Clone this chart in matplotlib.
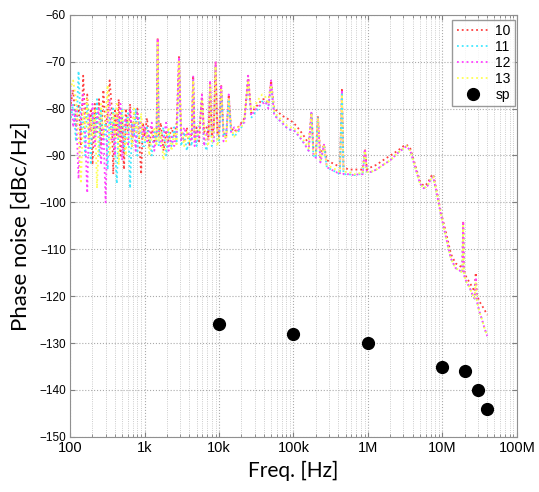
import numpy as np
import matplotlib.pyplot as plt
from matplotlib.ticker import LogLocator, NullFormatter

# frequency grid [Hz]
freq = [100, 110, 120, 130, 140, 150, 160, 170, 180, 190, 200, 215, 230, 245, 260, 280, 300,
        320, 340, 360, 380, 400, 425, 450, 475, 500, 530, 560, 600, 640, 680, 720, 760, 800,
        850, 900, 950,
        1000, 1080, 1160, 1250, 1350, 1450, 1500, 1550, 1650, 1800, 1950, 2100, 2300, 2500,
        2700, 2900, 3100, 3400, 3700, 4000, 4300, 4500, 4700, 5000, 5400, 5900, 6300, 6800,
        7200, 7600, 8000, 8500, 9000, 9500,
        10000, 10700, 11500, 12500, 13500, 14500, 16000, 18000, 20000, 22000, 24600, 27000,
        30000, 34000, 38000, 42000, 46000, 50000, 55000, 60000, 70000, 80000, 90000,
        100000, 120000, 140000, 160000, 174000, 185000, 200000, 213000, 230000, 257000,
        280000, 320000, 370000, 420000, 447000, 470000, 550000, 650000, 750000, 850000,
        912000, 970000,
        1.1e6, 1.3e6, 1.6e6, 2.0e6, 2.5e6, 3.0e6, 3.3e6, 3.7e6, 4.3e6, 5.0e6, 5.6e6, 6.3e6,
        7.0e6, 7.5e6, 8.5e6, 9.5e6, 11e6, 13e6, 15e6, 17e6, 18.5e6, 19e6, 19.5e6, 21e6, 23e6,
        25e6, 27e6, 28e6, 29e6, 31e6, 34e6, 37e6, 40e6]

pn10 = [-80, -76, -84, -79, -88, -73, -83, -77, -86, -80, -92, -79, -85, -78, -88, -76, -84,
        -81, -74, -79, -94, -80, -86, -78, -90, -82, -93, -80, -85, -79, -88, -81, -84, -80,
        -87, -94, -83,
        -86, -82, -88, -84, -87, -85, -65, -86, -83, -89, -85, -87, -84, -86,
        -83, -69, -85, -87, -84, -88, -85, -73, -86, -84, -87, -77, -85, -84,
        -86, -74.5, -86, -84, -70, -85,
        -86, -75, -85, -86, -77, -84, -85, -84, -83, -82, -73, -81,
        -80, -79, -78, -78, -79, -74, -80, -80.5, -81.5, -82, -82.5,
        -83, -84.5, -86, -87.5, -80.7, -88.5, -89, -81.8, -90, -87.7,
        -91, -91.5, -92, -92.5, -76, -92.5, -93, -93, -93, -93,
        -88.6, -93,
        -92.5, -92, -91, -90, -89, -88, -87.7, -88.5, -92, -95.5, -96.5, -96,
        -94.5, -94, -98, -102, -106, -111, -113, -113.5, -114, -104, -114.5, -116, -117,
        -118, -119, -115, -119.5, -121, -122, -123, -124]

pn11 = [-83, -79, -87, -72, -85, -82, -90, -79, -84, -92, -81, -86, -78, -90, -80, -87, -83,
        -93, -82, -85, -80, -88, -96, -82, -86, -80, -89, -84, -81, -97, -83, -86, -80, -90,
        -82, -85, -88,
        -88, -84, -86, -90, -85, -87, -66, -88, -86, -84, -90, -85, -88, -84,
        -87, -70, -88, -85, -89, -86, -88, -74, -85, -88, -84, -78, -87, -89,
        -85, -75, -88, -86, -71, -87,
        -87, -76, -86, -85, -78, -85, -86, -85, -84, -82.5, -74, -82,
        -81, -80, -78.5, -78.5, -79.5, -75, -81, -82, -83, -84, -84.5,
        -84.5, -86, -87.5, -89, -81, -90, -90.5, -82, -91.5, -88,
        -92.5, -93, -93.5, -94, -76.5, -94, -94, -94.2, -94, -94,
        -89, -93.5,
        -93.5, -93, -92, -91, -89.5, -88.5, -88, -89, -92.5, -96, -97, -96.5,
        -95, -94.5, -98.5, -102.5, -107, -112, -114, -114.5, -115, -105, -115.5, -117, -118,
        -119.5, -120.5, -117, -121, -123, -125, -127, -128.5]

pn12 = [-74, -84, -80, -95, -82, -77, -86, -98, -81, -85, -79, -88, -82, -80, -92, -84, -100,
        -82, -78, -87, -83, -90, -81, -86, -79, -91, -84, -82, -88, -80, -86, -83, -89, -81,
        -85, -83, -86,
        -84, -87, -85, -83, -89, -86, -65, -84, -88, -86, -83, -89, -86, -88,
        -85, -69, -87, -84, -86, -85, -87, -73, -88, -85, -86, -77, -88, -85,
        -87, -74, -84, -87, -70, -86,
        -85, -75, -87, -86, -77, -85, -84, -85, -83, -83, -73, -81.5,
        -80.5, -79.5, -79, -78.5, -80, -74, -81.5, -82, -83, -84, -84.5,
        -84.5, -86, -87.5, -89, -80.7, -90, -90.5, -81.8, -91.5, -87.7,
        -92.5, -93, -93.5, -94, -76, -94, -94, -94.2, -94, -94,
        -88.6, -93.5,
        -93.5, -93, -92, -91, -89.5, -88.5, -88, -89, -92.5, -96, -97, -96.5,
        -95, -94.5, -98.5, -102.5, -107, -112, -114, -114.5, -115, -104, -115.5, -117, -118,
        -119.5, -120.5, -116, -121, -123, -125, -127, -128.5]

pn13 = [-76, -74, -78, -86, -96, -80, -84, -78, -88, -82, -86, -80, -97, -84, -79, -86, -82,
        -75, -90, -84, -81, -86, -79, -92, -84, -80, -86, -90, -82, -84, -88, -80, -85, -83,
        -87, -81, -86,
        -87, -85, -90, -86, -84, -88, -66, -87, -85, -91, -87, -84, -89, -85,
        -88, -70, -84, -88, -85, -87, -84, -74, -87, -86, -85, -78, -84, -87,
        -88, -75, -87, -85, -71, -88,
        -86, -76, -85, -87, -78, -84, -86, -84, -84, -82, -74, -80.5,
        -79.5, -78, -77, -77.5, -79, -75, -80.5, -81.5, -82.5, -83.5, -84,
        -84, -85.5, -87, -88.5, -81, -89.5, -90, -82, -91, -88,
        -92, -92.5, -93, -93.5, -77, -93.5, -93.5, -94, -93.8, -93.8,
        -89, -93.5,
        -93.5, -93, -92, -91, -89.5, -88.5, -88, -89, -92.5, -96, -97, -96.5,
        -95, -94.5, -98.5, -102.5, -107, -112, -114, -114.5, -115, -105, -115.5, -117, -118,
        -119.5, -120.5, -117, -121, -123, -125, -127, -128.5]

# spec points
sp_f = [1e4, 1e5, 1e6, 1e7, 2e7, 3e7, 4e7]
sp_pn = [-126, -128, -130, -135, -136, -140, -144]

series = [("10", pn10, "#ff4040"), ("11", pn11, "#40e8ff"),
          ("12", pn12, "#ff40ff"), ("13", pn13, "#ffff50")]

fig = plt.figure(figsize=(5.39, 4.92), dpi=100)
ax = fig.add_axes([0.130, 0.112, 0.829, 0.858])

for name, vals, col in series:
    ax.semilogx(freq, vals, linestyle=":", color=col, lw=1.3, label=name)
ax.plot(sp_f, sp_pn, "o", color="black", ms=8.5, label="sp")

ax.set_xlim(100, 1e8)
ax.set_ylim(-150, -60)
ax.set_xticks([1e2, 1e3, 1e4, 1e5, 1e6, 1e7, 1e8])
ax.set_xticklabels(["100", "1k", "10k", "100k", "1M", "10M", "100M"])
ax.xaxis.set_minor_locator(LogLocator(base=10, subs=np.arange(2, 10)))
ax.xaxis.set_minor_formatter(NullFormatter())
ax.set_yticks(np.arange(-150, -59, 10))

ax.grid(True, which="major", linestyle=":", color="#aaaaaa", lw=0.8)
ax.grid(True, which="minor", axis="x", linestyle=":", color="#bbbbbb", lw=0.6)
ax.tick_params(which="both", direction="in", top=True, right=True, color="#808080",
               labelsize=8.5, pad=3)
for lab in ax.get_xticklabels() + ax.get_yticklabels():
    lab.set_fontfamily("Liberation Sans")
ax.tick_params(axis="x", labelsize=10.5)
for sp in ax.spines.values():
    sp.set_color("#909090")

ax.set_xlabel("Freq. [Hz]", fontsize=15, fontfamily="Lato", labelpad=4)
ax.set_ylabel("Phase noise [dBc/Hz]", fontsize=16, fontfamily="Lato", labelpad=6)

leg = ax.legend(loc="upper right", fontsize=10, handlelength=2.3, handletextpad=0.5,
                frameon=True, fancybox=False, edgecolor="#808080", borderpad=0.3,
                labelspacing=0.15, borderaxespad=0, bbox_to_anchor=(0.996, 0.988))
leg.get_frame().set_linewidth(1.0)
for t in leg.get_texts():
    t.set_fontfamily("Liberation Sans")

fig.savefig("out.png", dpi=100)
